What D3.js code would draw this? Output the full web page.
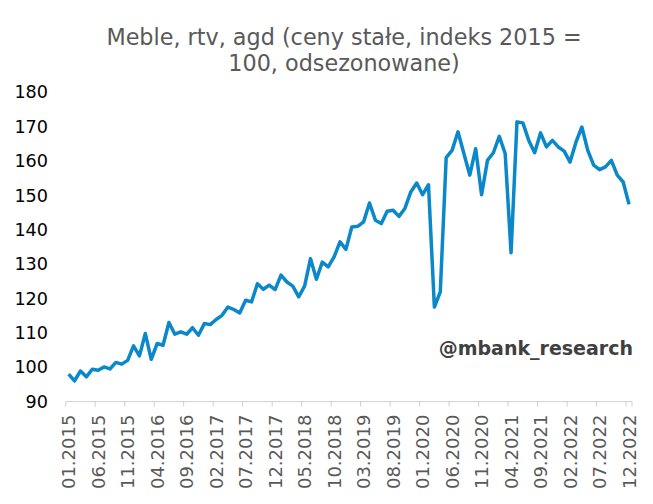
<!DOCTYPE html>
<html>
<head>
<meta charset="utf-8">
<script src="https://cdn.jsdelivr.net/npm/d3@7/dist/d3.min.js"></script>
<style>
  html, body { margin: 0; padding: 0; background: #fff; }
  svg { display: block; }
  text { font-family: "DejaVu Sans", Verdana, sans-serif; }
</style>
</head>
<body>
<svg id="chart" width="653" height="504"></svg>
<script>
// ---- data ----
const titleLines = ["Meble, rtv, agd (ceny stałe, indeks 2015 =", "100, odsezonowane)"];
const watermark = "@mbank_research";
const years = [2015, 2016, 2017, 2018, 2019, 2020, 2021, 2022];
const monthCodes = ["01","02","03","04","05","06","07","08","09","10","11","12"];
const values = [
  98.0, 96.0, 98.9, 97.2, 99.4, 99.1, 100.1, 99.5, 101.4, 100.9, 102.0, 106.2,
  103.3, 109.8, 102.3, 106.9, 106.4, 113.0, 109.6, 110.3, 109.6, 111.5, 109.3, 112.7,
  112.4, 113.9, 115.1, 117.5, 116.8, 115.8, 119.5, 119.0, 124.3, 122.7, 123.9, 122.6,
  126.8, 124.8, 123.6, 120.5, 123.6, 131.6, 125.6, 130.6, 129.2, 132.1, 136.5, 134.3,
  140.8, 141.0, 142.3, 147.8, 142.8, 141.8, 145.4, 145.7, 143.9, 146.2, 151.0, 153.6,
  150.2, 153.1, 117.5, 121.9, 161.0, 163.1, 168.5, 162.2, 155.9, 163.6, 150.2, 160.2,
  162.4, 167.2, 162.2, 133.3, 171.4, 171.1, 166.0, 162.4, 168.2, 164.1, 166.0, 164.1,
  162.9, 159.7, 165.5, 169.9, 163.1, 158.8, 157.5, 158.3, 160.2, 155.9, 153.9, 147.4
];
const yTicks = [90, 100, 110, 120, 130, 140, 150, 160, 170, 180];
const xTickLabels = ["01.2015","06.2015","11.2015","04.2016","09.2016","02.2017","07.2017",
  "12.2017","05.2018","10.2018","03.2019","08.2019","01.2020","06.2020","11.2020",
  "04.2021","09.2021","02.2022","07.2022","12.2022"];

const categories = [];
years.forEach(y => monthCodes.forEach(m => categories.push(m + "." + y)));
const data = categories.map((c, i) => ({ c, v: values[i] }));

// ---- layout ----
const svg = d3.select("#chart");
const x = d3.scaleBand().domain(categories).range([65.7, 632]).padding(0);
const y = d3.scaleLinear().domain([90, 180]).range([401.6, 92.3]);

// title
svg.append("g").selectAll("text").data(titleLines).join("text")
  .attr("x", 344).attr("y", (d, i) => 45 + i * 26)
  .attr("text-anchor", "middle")
  .attr("font-size", 22.3).attr("fill", "#595959")
  .text(d => d);

// y axis labels
const yAxis = d3.axisLeft(y).tickValues(yTicks).tickSize(0).tickPadding(0);
const gy = svg.append("g").attr("transform", "translate(48,0)").call(yAxis);
gy.select(".domain").remove();
gy.selectAll("text").attr("font-size", 17.6).attr("fill", "#000")
  .attr("font-family", "DejaVu Sans, Verdana, sans-serif");

// x axis
const gx = svg.append("g").attr("transform", "translate(0," + y(90) + ")");
gx.append("line").attr("x1", x.range()[0]).attr("x2", x.range()[1])
  .attr("y1", 0).attr("y2", 0).attr("stroke", "#d0d0d0").attr("stroke-width", 1);
const tickPos = xTickLabels.map(l => x(l)).concat([x.range()[1]]);
gx.selectAll("line.tick").data(tickPos).join("line").attr("class", "tick")
  .attr("x1", d => d).attr("x2", d => d).attr("y1", 0).attr("y2", 5)
  .attr("stroke", "#d0d0d0").attr("stroke-width", 1);
gx.selectAll("text").data(xTickLabels).join("text")
  .attr("transform", d => "translate(" + (x(d) + x.bandwidth() / 2) + ",13) rotate(-90)")
  .attr("text-anchor", "end").attr("dy", "0.36em")
  .attr("font-size", 18).attr("fill", "#595959")
  .text(d => d);

// line
const line = d3.line()
  .x(d => x(d.c) + x.bandwidth() / 2)
  .y(d => y(d.v));
svg.append("path").datum(data)
  .attr("d", line).attr("fill", "none")
  .attr("stroke", "#0a88c9").attr("stroke-width", 3.5)
  .attr("stroke-linejoin", "round");

// watermark
svg.append("text").attr("x", 633).attr("y", 355)
  .attr("text-anchor", "end").attr("font-size", 19).attr("font-weight", "bold")
  .attr("fill", "#404040").text(watermark);
</script>
</body>
</html>
